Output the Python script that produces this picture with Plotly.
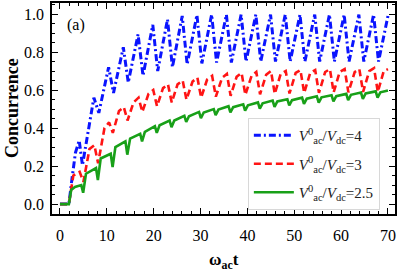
import plotly.graph_objects as go

# ---- data (omega_ac t, concurrence) ----
blue_t = [0, 1.9, 2.6, 3.3, 4.10, 4.80, 7.24, 8.29, 10.38, 11.43, 13.52, 14.57, 16.67, 17.72,
          19.81, 20.86, 22.95, 24.00, 26.09, 27.14, 29.23, 30.28, 32.37, 33.42, 35.52, 36.57,
          38.66, 39.71, 41.80, 42.85, 44.94, 45.99, 48.08, 49.13, 51.22, 52.27, 54.37, 55.42,
          57.51, 58.56, 60.65, 61.70, 63.79, 64.84, 66.93, 67.98, 70.0]
blue_c = [0, 0, 0.14, 0.27, 0.335, 0.205, 0.56, 0.48, 0.72, 0.585, 0.825, 0.64, 0.893, 0.675,
          0.943, 0.70, 0.972, 0.72, 0.99, 0.735, 0.995, 0.74, 0.997, 0.745, 0.997, 0.745,
          0.997, 0.75, 0.997, 0.75, 0.997, 0.75, 0.997, 0.75, 0.997, 0.75, 0.997, 0.75,
          0.997, 0.75, 0.997, 0.75, 0.997, 0.75, 0.997, 0.75, 0.99]

red_t = [0, 1.9, 2.85, 4.2, 5.0, 6.3, 7.34, 8.14, 9.5, 10.48, 11.28, 12.6, 13.62, 14.42, 15.7,
         16.77, 17.57, 18.9, 19.91, 20.71, 22.0, 23.05, 23.85, 25.1, 26.19, 26.99, 28.3,
         29.33, 30.13, 31.4, 32.47, 33.27, 34.6, 35.62, 36.42, 37.7, 38.76, 39.56, 40.9,
         41.90, 42.70, 44.0, 45.04, 45.84, 47.1, 48.18, 48.98, 50.3, 51.32, 52.12, 53.4,
         54.47, 55.27, 56.6, 57.61, 58.41, 59.7, 60.75, 61.55, 62.9, 63.89, 64.69, 66.0,
         67.03, 67.83, 69.1, 70.0]
red_c = [0, 0, 0.15, 0.17, 0.117, 0.29, 0.31, 0.215, 0.40, 0.43, 0.375, 0.49, 0.51, 0.44, 0.535,
         0.56, 0.485, 0.58, 0.60, 0.515, 0.61, 0.63, 0.535, 0.63, 0.65, 0.55, 0.645,
         0.665, 0.56, 0.655, 0.675, 0.565, 0.665, 0.685, 0.57, 0.67, 0.69, 0.575, 0.675,
         0.695, 0.578, 0.68, 0.70, 0.58, 0.685, 0.70, 0.582, 0.69, 0.705, 0.585, 0.69,
         0.705, 0.585, 0.695, 0.71, 0.588, 0.695, 0.71, 0.588, 0.695, 0.71, 0.59, 0.70,
         0.715, 0.59, 0.70, 0.71]

green_t = [0, 1.9, 2.4, 3.2, 4.55, 4.95, 5.55, 7.69, 8.09, 8.69, 10.83, 11.23, 11.83,
           13.97, 14.37, 14.97, 17.12, 17.52, 18.12, 20.26, 20.66, 21.26, 23.40, 23.80, 24.40,
           26.54, 26.94, 27.54, 29.68, 30.08, 30.68, 32.82, 33.22, 33.82, 35.97, 36.37, 36.97,
           39.11, 39.51, 40.11, 42.25, 42.65, 43.25, 45.39, 45.79, 46.39, 48.53, 48.93, 49.53,
           51.67, 52.07, 52.67, 54.82, 55.22, 55.82, 57.96, 58.36, 58.96, 61.10, 61.50, 62.10,
           64.24, 64.64, 65.24, 67.38, 67.78, 68.38, 70.0]
green_c = [0, 0, 0.075, 0.09, 0.10, 0.06, 0.16, 0.19, 0.127, 0.24, 0.265, 0.195, 0.30,
           0.33, 0.26, 0.345, 0.37, 0.33, 0.38, 0.41, 0.375, 0.415, 0.44, 0.405, 0.44,
           0.465, 0.432, 0.462, 0.485, 0.452, 0.482, 0.50, 0.468, 0.497, 0.515, 0.482, 0.51,
           0.525, 0.492, 0.52, 0.535, 0.502, 0.53, 0.545, 0.512, 0.54, 0.552, 0.52, 0.547,
           0.56, 0.527, 0.555, 0.567, 0.534, 0.562, 0.573, 0.54, 0.568, 0.58, 0.547, 0.575,
           0.587, 0.554, 0.582, 0.593, 0.56, 0.588, 0.598]

names = ["<i>V</i><sup>0</sup><sub>ac</sub>/<i>V</i><sub>dc</sub>=4",
         "<i>V</i><sup>0</sup><sub>ac</sub>/<i>V</i><sub>dc</sub>=3",
         "<i>V</i><sup>0</sup><sub>ac</sub>/<i>V</i><sub>dc</sub>=2.5"]

x_ticks = [0, 10, 20, 30, 40, 50, 60, 70]
y_ticks = [0.0, 0.2, 0.4, 0.6, 0.8, 1.0]

FONT = "Liberation Serif, Times New Roman, serif"

fig = go.Figure()
fig.add_trace(go.Scatter(x=blue_t, y=blue_c, mode="lines", name=names[0], legendgroup="a",
                         line=dict(color="#0a14ff", width=3, dash="7px,3px,2px,3px")))
fig.add_trace(go.Scatter(x=red_t, y=red_c, mode="lines", name=names[1], legendgroup="b",
                         line=dict(color="#ff1414", width=2.6, dash="7px,4px")))
fig.add_trace(go.Scatter(x=green_t, y=green_c, mode="lines", name=names[2], legendgroup="c",
                         line=dict(color="#18a018", width=2.6)))

axis_common = dict(showline=True, linecolor="black", linewidth=1.5, mirror="allticks",
                   ticks="inside", ticklen=6, tickwidth=1, tickcolor="black",
                   showgrid=False, zeroline=False, automargin=False,
                   tickfont=dict(family=FONT, size=16, color="black"))

fig.update_xaxes(range=[-1.7, 71.5], tickvals=x_ticks, ticktext=[str(v) for v in x_ticks],
                 minor=dict(ticks="inside", dtick=2, tick0=0, ticklen=3, tickcolor="black"),
                 ticklabelstandoff=6, **axis_common)
fig.update_yaxes(range=[-0.052, 1.058], tickvals=y_ticks, ticktext=[f"{v:.1f}" for v in y_ticks],
                 minor=dict(ticks="inside", dtick=0.05, tick0=0, ticklen=3, tickcolor="black"),
                 ticklabelstandoff=3, **axis_common)

# axis titles placed as paper annotations
fig.add_annotation(x=0.5, y=-0.225, xref="paper", yref="paper",
                   text="<b>ω<sub>ac</sub>t</b>", showarrow=False,
                   font=dict(family=FONT, size=17, color="black"),
                   xanchor="center", yanchor="middle")
fig.add_annotation(x=-0.118, y=0.5, xref="paper", yref="paper",
                   text="<b>Concurrence</b>", showarrow=False, textangle=-90,
                   font=dict(family=FONT, size=18, color="black"),
                   xanchor="center", yanchor="middle")
fig.add_annotation(x=0.07, y=0.895, xref="paper", yref="paper", text="(a)", showarrow=False,
                   font=dict(family=FONT, size=16, color="black"), xanchor="center", yanchor="middle")

fig.update_layout(
    width=399, height=274,
    margin=dict(l=52, r=4, t=3, b=60, autoexpand=False),
    paper_bgcolor="white", plot_bgcolor="white",
    showlegend=True,
    legend=dict(x=0.571, y=0.455, xanchor="left", yanchor="top",
                bgcolor="white", bordercolor="#d8d8d8", borderwidth=1,
                font=dict(family=FONT, size=15, color="#222"),
                traceorder="grouped", tracegroupgap=6, itemwidth=40),
)

fig.write_html("out.html", config={"displayModeBar": False},
               post_script="document.body.style.margin='0';document.body.style.padding='0';")
